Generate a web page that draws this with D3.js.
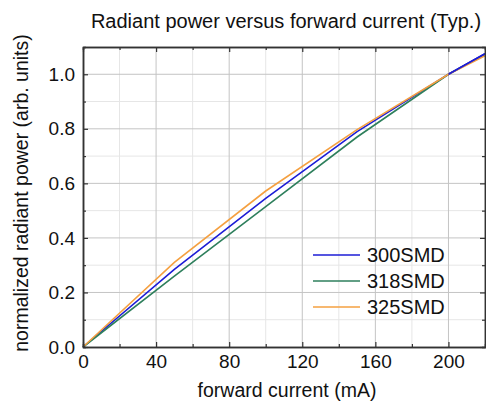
<!DOCTYPE html>
<html>
<head>
<meta charset="utf-8">
<script src="https://cdn.jsdelivr.net/npm/d3@7"></script>
<style>
  body { margin: 0; background: #fff; }
  text { font-family: "Liberation Sans", Arial, sans-serif; fill: #111; }
</style>
</head>
<body>
<div id="plotDiv"></div>
<script>
var current = [0, 50, 100, 150, 200, 220];
var p300 = [0, 0.285, 0.545, 0.79, 1.0, 1.075];
var p318 = [0, 0.26, 0.515, 0.77, 1.0, 1.072];
var p325 = [0, 0.31, 0.572, 0.797, 1.0, 1.068];
var seriesNames = ["300SMD", "318SMD", "325SMD"];
var seriesColors = ["#1c1cd6", "#2e7f5c", "#f5a040"];
var xTicks = [0, 40, 80, 120, 160, 200];
var yTicks = [0, 0.2, 0.4, 0.6, 0.8, 1.0];

var width = 486, height = 403;
var margin = {top: 47, right: 1, bottom: 56, left: 83};
var w = width - margin.left - margin.right;
var h = height - margin.top - margin.bottom;

var svg = d3.select("#plotDiv").append("svg")
    .attr("width", width)
    .attr("height", height);

var x = d3.scaleLinear().domain([0, 220]).range([0, w]);
var y = d3.scaleLinear().domain([0, 1.1]).range([h, 0]);

var g = svg.append("g").attr("transform", "translate(" + margin.left + "," + margin.top + ")");

// minor grid
var xMinor = d3.range(20, 220, 40);
var yMinor = d3.range(0.1, 1.1, 0.2);
g.append("g").selectAll("line").data(xMinor).enter().append("line")
    .attr("x1", d => x(d)).attr("x2", d => x(d)).attr("y1", 0).attr("y2", h)
    .attr("stroke", "#e6e6e6").attr("stroke-width", 1);
g.append("g").selectAll("line").data(yMinor).enter().append("line")
    .attr("y1", d => y(d)).attr("y2", d => y(d)).attr("x1", 0).attr("x2", w)
    .attr("stroke", "#e6e6e6").attr("stroke-width", 1);

// major grid
g.append("g").selectAll("line").data(xTicks.slice(1)).enter().append("line")
    .attr("x1", d => x(d)).attr("x2", d => x(d)).attr("y1", 0).attr("y2", h)
    .attr("stroke", "#c4c4c4").attr("stroke-width", 1);
g.append("g").selectAll("line").data(yTicks.slice(1)).enter().append("line")
    .attr("y1", d => y(d)).attr("y2", d => y(d)).attr("x1", 0).attr("x2", w)
    .attr("stroke", "#c4c4c4").attr("stroke-width", 1);

// curves
var line = d3.line().x((d, i) => x(current[i])).y(d => y(d));
[p300, p318, p325].forEach(function(s, i) {
    g.append("path").datum(s)
        .attr("d", line)
        .attr("fill", "none")
        .attr("stroke", seriesColors[i])
        .attr("stroke-width", 1.6);
});
// blue drawn on top near the end as in reference
svg.append("clipPath").attr("id", "endClip").append("rect")
    .attr("x", x(200)).attr("y", -5).attr("width", w).attr("height", h);
g.append("path").datum(p300).attr("d", line).attr("fill", "none")
    .attr("stroke", seriesColors[0]).attr("stroke-width", 1.6)
    .attr("clip-path", "url(#endClip)");

// axes with inward ticks
g.append("g").attr("transform", "translate(0," + h + ")")
    .call(d3.axisBottom(x).tickValues(xTicks).tickSizeInner(-5).tickSizeOuter(0).tickPadding(8));
g.append("g")
    .call(d3.axisTop(x).tickValues(xTicks).tickSizeInner(-5).tickSizeOuter(0).tickFormat(""));
g.append("g")
    .call(d3.axisLeft(y).tickValues(yTicks).tickSizeInner(-5).tickSizeOuter(0).tickPadding(8).tickFormat(d3.format(".1f")));
g.append("g").attr("transform", "translate(" + w + ",0)")
    .call(d3.axisRight(y).tickValues(yTicks).tickSizeInner(-5).tickSizeOuter(0).tickFormat(""));

g.append("g").attr("transform", "translate(0," + h + ")")
    .call(d3.axisBottom(x).tickValues(xMinor).tickSize(-3).tickFormat(""));
g.append("g")
    .call(d3.axisTop(x).tickValues(xMinor).tickSize(-3).tickFormat(""));
g.append("g")
    .call(d3.axisLeft(y).tickValues(yMinor).tickSize(-3).tickFormat(""));
g.append("g").attr("transform", "translate(" + w + ",0)")
    .call(d3.axisRight(y).tickValues(yMinor).tickSize(-3).tickFormat(""));

g.selectAll(".domain").attr("stroke", "#333").attr("stroke-width", 1.5);
g.selectAll(".tick line").attr("stroke", "#333").attr("stroke-width", 1.2);
g.selectAll(".tick text").attr("font-size", null).style("font-size", "19px").attr("fill", "#111")
    .style("font-family", "'Liberation Sans', Arial, sans-serif");

// titles
svg.append("text").attr("x", 286).attr("y", 28).attr("text-anchor", "middle")
    .style("font-size", "20px").text("Radiant power versus forward current (Typ.)");
svg.append("text").attr("x", 287).attr("y", 397).attr("text-anchor", "middle")
    .style("font-size", "19.5px").text("forward current (mA)");
svg.append("text").attr("transform", "translate(28,193) rotate(-90)")
    .attr("text-anchor", "middle")
    .style("font-size", "19.5px").text("normalized radiant power (arb. units)");

// legend
var leg = svg.append("g").selectAll("g").data(seriesNames).enter().append("g")
    .attr("transform", (d, i) => "translate(313," + (255 + i * 26) + ")");
leg.append("line").attr("x1", 0).attr("x2", 47).attr("y1", 0).attr("y2", 0)
    .attr("stroke", (d, i) => seriesColors[i]).attr("stroke-width", 1.6);
leg.append("text").attr("x", 54).attr("y", 7).style("font-size", "20px").text(d => d);
</script>
</body>
</html>
